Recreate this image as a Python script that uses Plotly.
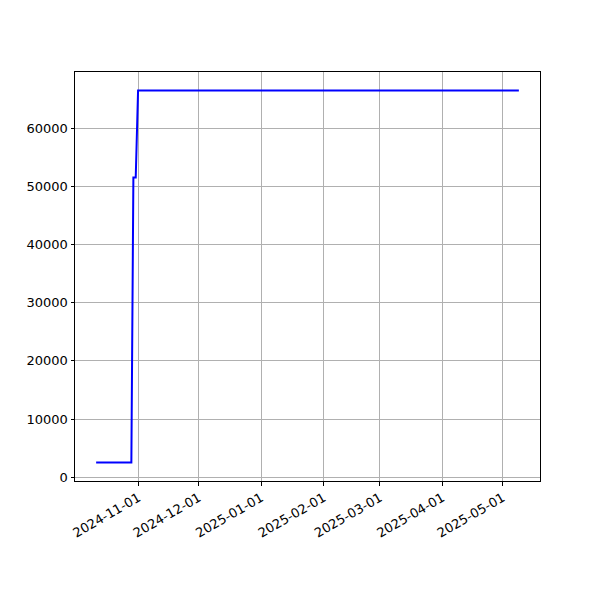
import pandas as pd
import plotly.graph_objects as go

dates = ["2024-10-11 00:00", "2024-10-28 12:00", "2024-10-29 12:00", "2024-10-30 16:00",
         "2024-10-31 20:00", "2025-05-09 00:00"]
values = [2550, 2550, 51500, 51500, 66450, 66450]
tick_dates = ["2024-11-01", "2024-12-01", "2025-01-01", "2025-02-01", "2025-03-01", "2025-04-01", "2025-05-01"]
y_ticks = [0, 10000, 20000, 30000, 40000, 50000, 60000]

d = pd.to_datetime(dates, format="%Y-%m-%d %H:%M")
span = d.max() - d.min()
xr = [d.min() - span * 0.05, d.max() + span * 0.05]
vspan = max(values) - min(values)
yr = [min(values) - vspan * 0.05, max(values) + vspan * 0.05]

fig = go.Figure(go.Scatter(x=d, y=values, mode="lines",
                           line=dict(color="#0000ff", width=2)))

axis_common = dict(showline=True, linecolor="black", linewidth=1, mirror=True,
                   showgrid=True, gridcolor="#b0b0b0", gridwidth=0.8,
                   ticks="outside", ticklen=3.5, tickwidth=0.8, tickcolor="black",
                   zeroline=False, automargin=False,
                   tickfont=dict(family="DejaVu Sans", size=13, color="black"))

fig.update_xaxes(range=xr, tickvals=pd.to_datetime(tick_dates), ticktext=tick_dates,
                 tickangle=-30, **axis_common)
fig.update_yaxes(range=yr, tickvals=y_ticks, ticktext=[str(v) for v in y_ticks], **axis_common)

# page body has an 8px margin, so offset the plot area accordingly
fig.update_layout(width=600, height=600, margin=dict(l=67, r=68, t=64, b=127),
                  plot_bgcolor="white", paper_bgcolor="white", showlegend=False,
                  font=dict(family="DejaVu Sans", size=13, color="black"))

fig.write_html("out.html")
